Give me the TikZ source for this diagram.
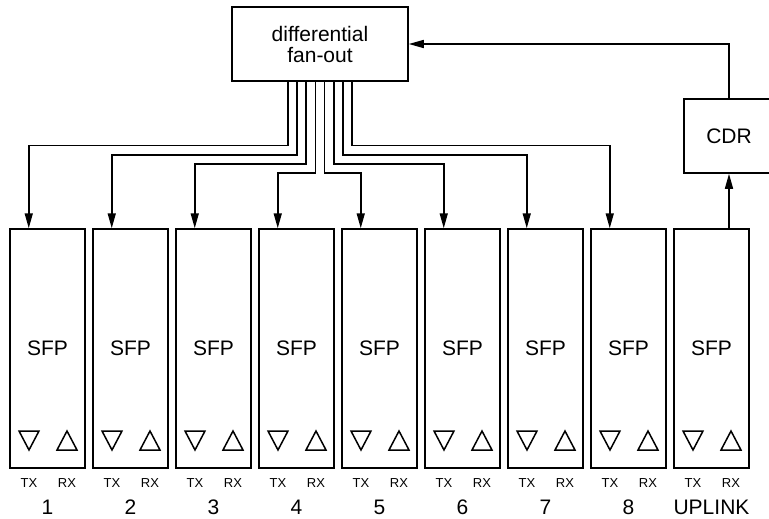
\documentclass[tikz,border=0pt]{standalone}
\usepackage{fontspec}
\setmainfont{Liberation Sans}
\usetikzlibrary{arrows.meta}

\begin{document}
\begin{tikzpicture}[x=1pt,y=-1pt,line width=1.5pt,
	sfpbox/.style={draw,minimum width=75pt,minimum height=239pt,inner sep=0pt},
	link/.style={-{Triangle[length=15pt,width=8pt]}},
	big/.style={font=\fontsize{21}{21}\selectfont},
	small/.style={font=\fontsize{13}{13}\selectfont}]
	\useasboundingbox (0,0) rectangle (769,519);

	%fan-out and CDR
	\node[draw,big,align=center,minimum width=176pt,minimum height=74pt] (fanout) at (320,44){differential\\fan-out};
	\node[draw,big,minimum width=90pt,minimum height=74pt] (cdr) at (729,136){CDR};

	%SFP slots
	\foreach \k/\lab in {1/1, 2/2, 3/3, 4/4, 5/5, 6/6, 7/7, 8/8, 9/UPLINK}{
		\pgfmathsetmacro\L{10+83*(\k-1)}
		\node[sfpbox,big] (sfp\k) at (\L+37.5, 348.5){SFP};
		\draw (\L+9,431) -- (\L+29,431) -- (\L+19,450) -- cycle;
		\draw (\L+47,450) -- (\L+67,450) -- (\L+57,431) -- cycle;
		\node[small] (tx\k) at (\L+19,483){TX};
		\node[small] (rx\k) at (\L+57,483){RX};
		\node[big] (num\k) at (\L+37.5,507){\lab};
	}

	%fan-out lines
	\foreach \k in {1,...,8}{
		\pgfmathsetmacro\fx{320+9.2*(\k-4.5)}
		\pgfmathsetmacro\fy{145.7+9.1*(min(\k,9-\k)-1)}
		\coordinate (in\k) at ([xshift=19.5pt]sfp\k.north west);
		\draw[link] (fanout.south -| \fx,0) -- (\fx,\fy) -| (in\k);
	}

	%uplink
	\draw[link] (sfp9.north -| cdr) -- (cdr.south);
	\draw[link] (cdr.north) |- (fanout.east);
\end{tikzpicture}
\end{document}
